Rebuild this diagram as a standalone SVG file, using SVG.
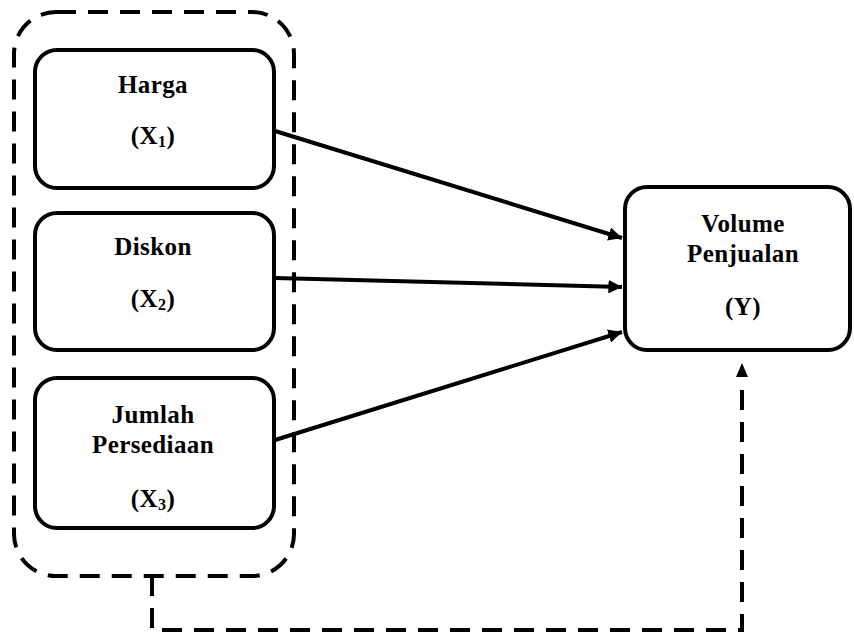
<svg xmlns="http://www.w3.org/2000/svg" width="854" height="637" viewBox="0 0 854 637">
<style>
.box{fill:#fff;stroke:#000;stroke-width:4}
.dash{fill:none;stroke:#000;stroke-width:4;stroke-dasharray:20,12}
.edge{fill:none;stroke:#000;stroke-width:4}
text{font-family:"Liberation Serif","Times New Roman",serif;font-weight:bold;font-size:25px;letter-spacing:0.4px;text-anchor:middle;fill:#000}
.sub{font-size:16px}
</style>
<defs>
<marker id="ah" viewBox="0 0 10 10" refX="10" refY="5" markerWidth="3.4" markerHeight="3.4" orient="auto" markerUnits="strokeWidth">
<path d="M0,0 L10,5 L0,10 z" fill="#000"/>
</marker>
</defs>
<rect width="854" height="637" fill="#fff"/>
<g id="group-x">
<rect class="dash" x="14" y="12" width="280" height="564" rx="42" ry="42"/>
</g>
<g id="harga">
<rect class="box" x="35" y="50" width="239" height="138" rx="22" ry="22"/>
<text x="153" y="93">Harga</text>
<text x="153" y="144">(X<tspan class="sub" dy="3">1</tspan><tspan dy="-3">)</tspan></text>
</g>
<g id="diskon">
<rect class="box" x="35" y="213" width="239" height="137" rx="22" ry="22"/>
<text x="153" y="255">Diskon</text>
<text x="153" y="307">(X<tspan class="sub" dy="3">2</tspan><tspan dy="-3">)</tspan></text>
</g>
<g id="jumlah">
<rect class="box" x="35" y="378" width="239" height="150" rx="22" ry="22"/>
<text x="153" y="423">Jumlah</text>
<text x="153" y="453">Persediaan</text>
<text x="153" y="507">(X<tspan class="sub" dy="3">3</tspan><tspan dy="-3">)</tspan></text>
</g>
<g id="volume">
<rect class="box" x="625" y="187" width="225" height="163" rx="22" ry="22"/>
<text x="743" y="232">Volume</text>
<text x="743" y="262">Penjualan</text>
<text x="743" y="315">(Y)</text>
</g>
<g id="connectors">
<line class="edge" x1="275" y1="131" x2="622" y2="238" marker-end="url(#ah)"/>
<line class="edge" x1="275" y1="278" x2="622" y2="287" marker-end="url(#ah)"/>
<line class="edge" x1="275" y1="440" x2="622" y2="332" marker-end="url(#ah)"/>
<path class="dash" d="M152,576 L152,630 L742,630 L742,378"/>
<path d="M742,363 L736,377 L748,377 z" fill="#000"/>
</g>
</svg>
